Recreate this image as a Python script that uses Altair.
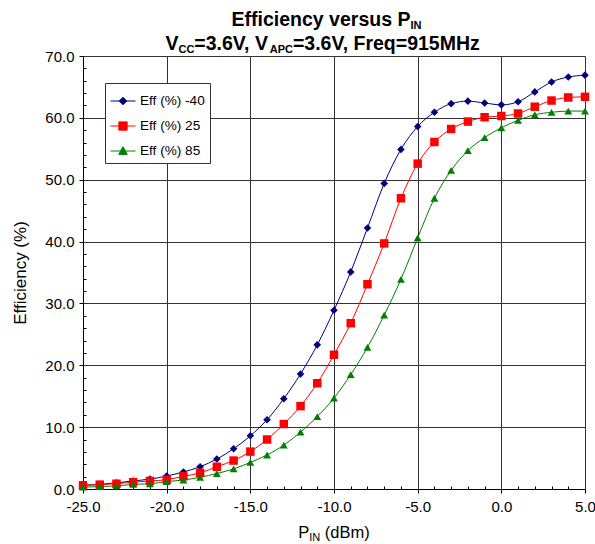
import altair as alt
import pandas as pd

# ---------------- data ----------------
p_in = list(range(-25, 6))
eff_m40 = [0.6, 0.75, 1.0, 1.3, 1.6, 2.1, 2.75, 3.6, 4.85, 6.5, 8.6,
           11.2, 14.6, 18.6, 23.3, 28.9, 35.1, 42.2, 49.4, 54.9, 58.6,
           60.9, 62.3, 62.7, 62.4, 62.1, 62.6, 64.2, 65.8, 66.6, 66.9]
eff_25 = [0.6, 0.7, 0.85, 1.1, 1.3, 1.5, 2.05, 2.6, 3.6, 4.6, 6.05,
          8.0, 10.5, 13.4, 17.1, 21.7, 26.8, 33.1, 39.7, 47.0, 52.6,
          56.1, 58.2, 59.4, 60.1, 60.3, 60.7, 61.8, 62.8, 63.3, 63.4]
eff_85 = [0.3, 0.4, 0.5, 0.75, 0.85, 1.2, 1.45, 1.9, 2.5, 3.25, 4.3,
          5.5, 7.1, 9.2, 11.7, 14.7, 18.5, 22.9, 28.1, 33.9, 40.6,
          47.0, 51.5, 54.7, 56.8, 58.4, 59.6, 60.5, 60.9, 61.1, 61.1]
series_names = ["Eff (%) -40", "Eff (%) 25", "Eff (%) 85"]
series_colors = ["#000080", "#FF0000", "#008000"]
x_ticks = [-25, -20, -15, -10, -5, 0, 5]
y_ticks = [0, 10, 20, 30, 40, 50, 60, 70]
x_minor = [v for v in range(-25, 6) if v % 5 != 0]
y_minor = [v for v in range(0, 71, 2) if v % 10 != 0]
title1 = [("Efficiency versus P", False), ("IN", True)]
title2 = [("V", False), ("CC", True), ("=3.6V, V", False), ("APC", True),
          ("=3.6V, Freq=915MHz", False)]
xtitle = [("P", False), ("IN", True), (" (dBm)", False)]
ytitle = "Efficiency (%)"

rows = []
for name, vals in zip(series_names, [eff_m40, eff_25, eff_85]):
    for x, y in zip(p_in, vals):
        rows.append({"series": name, "pin": x, "eff": y})
df = pd.DataFrame(rows)

# ---------------- styling ----------------
FONT = "Liberation Sans, Arial, sans-serif"
W, H = 502, 433
PAD_L, PAD_T = 83, 56

BOLD = {" ": 278, "=": 584, ".": 278, ",": 278, "(": 333, ")": 333, "%": 889, "-": 333,
        "A": 722, "C": 722, "E": 667, "F": 611, "H": 722, "I": 278, "M": 833, "N": 722,
        "P": 667, "V": 667, "c": 556, "e": 556, "f": 333, "i": 278, "n": 611, "q": 611,
        "r": 389, "s": 556, "u": 611, "v": 556, "y": 556, "z": 500}
REG = {" ": 278, "(": 333, ")": 333, "d": 556, "B": 667, "m": 833, "P": 667, "I": 278, "N": 722}
for d in "0123456789":
    BOLD[d] = 556
    REG[d] = 556


def tw(s, size, table):
    return sum(table.get(c, 556) for c in s) * size / 1000.0


def rich_text(segments, center_x, baseline_y, size, sub_size, sub_drop, bold):
    table = BOLD if bold else REG
    total = sum(tw(s, sub_size if sub else size, table) for s, sub in segments)
    x = center_x - total / 2.0
    layers = []
    one = pd.DataFrame({"k": [0]})
    for s, sub in segments:
        fs = sub_size if sub else size
        lead = len(s) - len(s.lstrip(" "))
        xs_ = x + tw(" " * lead, fs, table)
        layers.append(
            alt.Chart(one).mark_text(
                align="left", baseline="alphabetic", font=FONT, fontSize=fs,
                fontWeight="bold" if bold else "normal", color="#000000", text=s.strip(" ")
            ).encode(x=alt.value(xs_), y=alt.value(baseline_y + (sub_drop if sub else 0)))
        )
        x += tw(s, fs, table)
    return layers


xs = alt.Scale(domain=[-25, 5], nice=False, zero=False)
ys = alt.Scale(domain=[0, 70], nice=False, zero=False)

LBL = "(datum.value < 0 ? '-' : '') + format(abs(datum.value), '.1f')"

major_x = alt.Axis(orient="bottom", values=x_ticks, labelExpr=LBL, title=None, grid=True,
                   gridColor="#333333", gridWidth=1, gridOpacity=1, domainColor="#000000",
                   domainWidth=1, tickColor="#000000", tickSize=4, tickWidth=1,
                   labelFont=FONT, labelFontSize=15, labelColor="#000000", labelPadding=6,
                   labelFlush=False, labelOverlap=False)
major_y = alt.Axis(orient="left", values=y_ticks, labelExpr=LBL, title=ytitle, grid=True,
                   gridColor="#333333", gridWidth=1, gridOpacity=1, domainColor="#000000",
                   domainWidth=1, tickColor="#000000", tickSize=4, tickWidth=1,
                   labelFont=FONT, labelFontSize=15, labelColor="#000000", labelPadding=5,
                   labelFlush=False, labelOverlap=False,
                   titleFont=FONT, titleFontSize=17, titleFontWeight="normal",
                   titleColor="#000000", titleX=-54, titleY=H / 2, titleAngle=270)
minor_x = alt.Axis(orient="bottom", values=x_minor, labels=False, domain=False, grid=False,
                   ticks=True, tickSize=3, tickColor="#000000", tickWidth=1, offset=-3,
                   title=None)
minor_y = alt.Axis(orient="left", values=y_minor, labels=False, domain=False, grid=False,
                   ticks=True, tickSize=3, tickColor="#000000", tickWidth=1, offset=-3,
                   title=None)

base = alt.Chart(df)

shapes = ["diamond", "square", "triangle-up"]
sizes = [58, 72, 62]
line_layers = []
point_layers = []
for i, (name, col, shp, sz) in enumerate(zip(series_names, series_colors, shapes, sizes)):
    sub = base.transform_filter(alt.datum.series == name)
    line_layers.append(
        sub.mark_line(interpolate="monotone", strokeWidth=1, color=col).encode(
            x=alt.X("pin:Q", scale=xs, axis=major_x if i == 0 else None),
            y=alt.Y("eff:Q", scale=ys, axis=major_y if i == 0 else None),
        )
    )
    point_layers.append(
        sub.mark_point(shape=shp, filled=True, size=sz, opacity=1, color=col).encode(
            x=alt.X("pin:Q", scale=xs, axis=None),
            y=alt.Y("eff:Q", scale=ys, axis=None),
        )
    )

axes_minor = base.mark_point(opacity=0).encode(
    x=alt.X("pin:Q", scale=xs, axis=minor_x),
    y=alt.Y("eff:Q", scale=ys, axis=minor_y),
)

legend_paths = [
    "M-1,0H1M0,-0.3L0.3,0L0,0.3L-0.3,0Z",
    "M-1,0H1M-0.33,-0.33H0.33V0.33H-0.33Z",
    "M-1,0H1M0,-0.34L0.34,0.27L-0.34,0.27Z",
]
leg = alt.Legend(title=None, orient="none", legendX=22, legendY=27, symbolSize=625,
                 symbolStrokeWidth=1, symbolOpacity=1, labelFont=FONT, labelFontSize=13.6,
                 labelColor="#000000", padding=5, strokeColor="#333333", fillColor="#ffffff",
                 rowPadding=5, labelOffset=4)
legend_layer = base.mark_point(filled=False, opacity=0).encode(
    x=alt.X("pin:Q", scale=xs, axis=None),
    y=alt.Y("eff:Q", scale=ys, axis=None),
    stroke=alt.Stroke("series:N", scale=alt.Scale(domain=series_names, range=series_colors), legend=leg),
    fill=alt.Fill("series:N", scale=alt.Scale(domain=series_names, range=series_colors), legend=leg),
    shape=alt.Shape("series:N", scale=alt.Scale(domain=series_names, range=legend_paths), legend=leg),
)

text_layers = []
text_layers += rich_text(title1, 326.5 - PAD_L, 26 - PAD_T, 19.5, 11, 3, True)
text_layers += rich_text(title2, 323.5 - PAD_L, 50 - PAD_T, 19.5, 11, 3, True)
text_layers += rich_text(xtitle, 334 - PAD_L, 538 - PAD_T, 16.5, 11, 3, False)

chart = alt.layer(*line_layers, axes_minor, *point_layers, legend_layer, *text_layers).resolve_axis(
    x="independent", y="independent"
).properties(
    width=W, height=H,
    autosize=alt.AutoSizeParams(type="none"),
    padding={"left": PAD_L, "top": PAD_T, "right": 595 - PAD_L - W, "bottom": 544 - PAD_T - H},
).configure_view(stroke=None).configure(background="#ffffff")

chart.save("out.html", embed_options={"renderer": "svg", "actions": False})
